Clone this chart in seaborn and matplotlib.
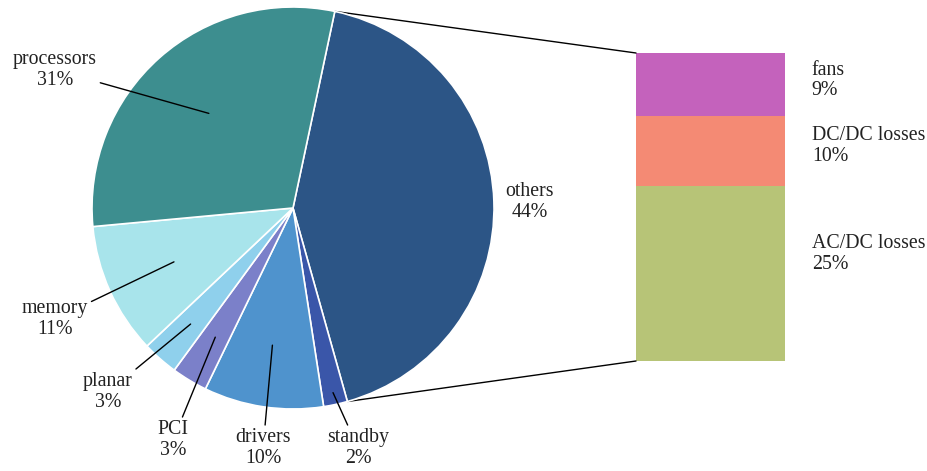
import numpy as np
import matplotlib
matplotlib.use("Agg")
import matplotlib.pyplot as plt
from matplotlib.patches import ConnectionPatch
import seaborn as sns

# Server power breakdown (pie) and split of the "others" share (stacked bar)
pie_labels = ["others", "standby", "drivers", "PCI", "planar", "memory", "processors"]
pie_values = [44, 2, 10, 3, 3, 11, 31]
pie_colors = ["#2c5586", "#3a56a9", "#4f93cd", "#7b80c9", "#8fd0ec", "#a8e4eb", "#3d8e8f"]

bar_labels = ["AC/DC losses", "DC/DC losses", "fans"]
bar_values = [25, 10, 9]
bar_colors = ["#b7c477", "#f48a74", "#c462bc"]

sns.set_theme(style="white")
plt.rcParams["font.family"] = ["Liberation Serif", "DejaVu Serif"]

W, H = 927, 471
fig = plt.figure(figsize=(W / 100, H / 100), dpi=100)
fig.patch.set_facecolor("white")

cx, cy, R = 293, 208, 201
ax1 = fig.add_axes([(cx - R) / W, (H - cy - R) / H, 2 * R / W, 2 * R / H])
ax2 = fig.add_axes([636 / W, (H - 361) / H, 149 / W, 308 / H])
ax1.set_zorder(2)


def px(x, y):
    """Convert figure pixel position (from top-left) to pie data units."""
    return ((x - cx) / R, (cy - y) / R)


wedges, _ = ax1.pie(
    pie_values, colors=pie_colors, startangle=78, counterclock=False, radius=1,
    wedgeprops=dict(edgecolor="white", linewidth=1.2),
)
ax1.set_xlim(-1, 1)
ax1.set_ylim(-1, 1)
ax1.axis("off")

FS = 14.3
text_pos = [(530, 202), (358, 448), (263, 448), (173, 440), (108, 392), (55, 319), (55, 70)]
leader_r = [None, 0.94, 0.69, 0.75, 0.77, 0.65, 0.63]

for w, lab, val, tp, lr in zip(wedges, pie_labels, pie_values, text_pos, leader_r):
    txt = f"{lab}\n{val}%"
    if lr is None:
        ax1.text(*px(*tp), txt, ha="center", va="center", fontsize=FS,
                 linespacing=1.1, color="#222222")
        continue
    mid = np.deg2rad((w.theta1 + w.theta2) / 2)
    ax1.annotate(
        txt, xy=(lr * np.cos(mid), lr * np.sin(mid)), xytext=px(*tp),
        textcoords="data", ha="center", va="center", fontsize=FS,
        linespacing=1.1, color="#222222", annotation_clip=False,
        arrowprops=dict(arrowstyle="-", color="black", lw=1.0,
                        shrinkA=0, shrinkB=0),
    )

# Stacked bar for the "others" share
label_shift = [2.8, 0.7, 0.6]
bottom = 0
for lab, val, col, sh in zip(bar_labels, bar_values, bar_colors, label_shift):
    sns.barplot(x=["others"], y=[val], bottom=bottom, color=col, width=1.0,
                saturation=1, linewidth=0, ax=ax2)
    ax2.text(0.68, bottom + val / 2 + sh, f"{lab}\n{val}%", ha="left",
             va="center", fontsize=FS, linespacing=1.1, color="#222222")
    bottom += val
ax2.set_xlim(-0.5, 0.5)
ax2.set_ylim(0, sum(bar_values))
ax2.axis("off")

# Connector lines from the "others" wedge to the bar
others = wedges[0]
for ang, ybar in ((others.theta2, sum(bar_values)), (others.theta1, 0)):
    a = np.deg2rad(ang)
    con = ConnectionPatch(
        xyA=(-0.5, ybar), coordsA=ax2.transData,
        xyB=(np.cos(a), np.sin(a)), coordsB=ax1.transData,
        color="black", linewidth=1.0,
    )
    ax2.add_artist(con)
    con.set_clip_on(False)

fig.savefig("out.png", dpi=100, facecolor="white")
